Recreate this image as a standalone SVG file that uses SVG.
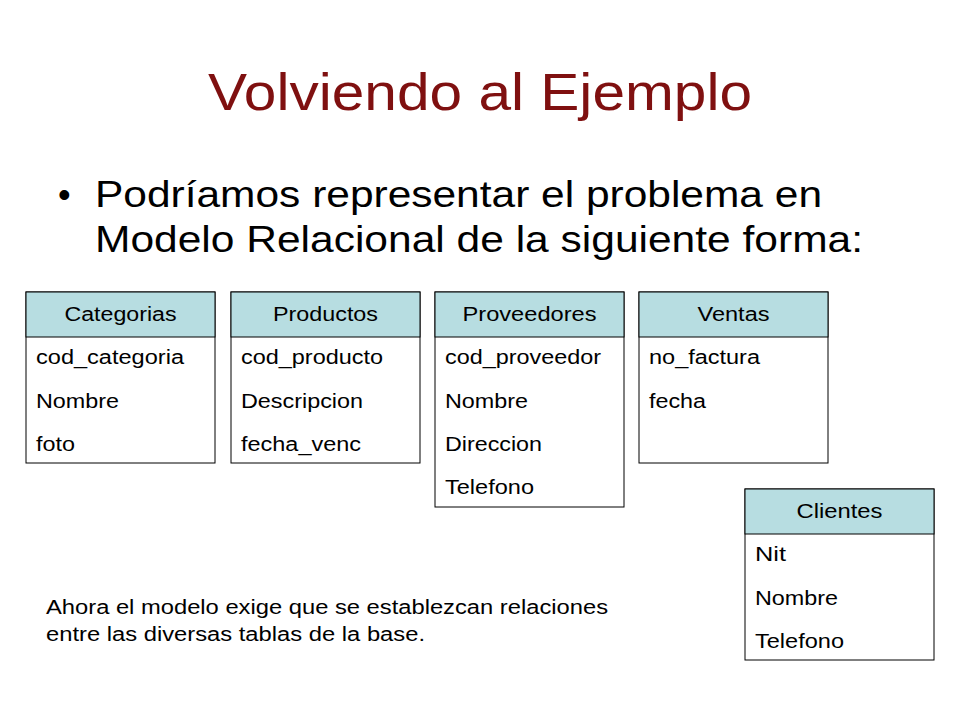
<svg xmlns="http://www.w3.org/2000/svg" width="960" height="720" viewBox="0 0 960 720">
<style>
text{font-family:"Liberation Sans",Arial,sans-serif;fill:#000}
.box{fill:#fff;stroke:#000;stroke-width:1}
.hd{fill:#B7DDE1;stroke:#000;stroke-width:1}
.h{font-size:20px;text-anchor:middle}
.r{font-size:20px}
</style>
<rect width="960" height="720" fill="#fff"/>
<text x="480" y="110" font-size="52" text-anchor="middle" textLength="544" lengthAdjust="spacingAndGlyphs" style="fill:#7F1010">Volviendo al Ejemplo</text>
<text x="58" y="207" font-size="36">•</text>
<text x="95" y="207" font-size="36" textLength="727" lengthAdjust="spacingAndGlyphs">Podríamos representar el problema en</text>
<text x="95" y="252" font-size="36" textLength="768" lengthAdjust="spacingAndGlyphs">Modelo Relacional de la siguiente forma:</text>
<g id="categorias">
<rect class="box" x="26" y="292" width="189" height="171"/><rect class="hd" x="26" y="292" width="189" height="45"/>
<text class="h" x="120.5" y="321" textLength="112" lengthAdjust="spacingAndGlyphs">Categorias</text>
<text class="r" x="36" y="364" textLength="148" lengthAdjust="spacingAndGlyphs">cod_categoria</text><text class="r" x="36" y="408" textLength="83" lengthAdjust="spacingAndGlyphs">Nombre</text><text class="r" x="36" y="451" textLength="39" lengthAdjust="spacingAndGlyphs">foto</text>
</g>
<g id="productos">
<rect class="box" x="231" y="292" width="189" height="171"/><rect class="hd" x="231" y="292" width="189" height="45"/>
<text class="h" x="325.5" y="321" textLength="105" lengthAdjust="spacingAndGlyphs">Productos</text>
<text class="r" x="241" y="364" textLength="142" lengthAdjust="spacingAndGlyphs">cod_producto</text><text class="r" x="241" y="408" textLength="122" lengthAdjust="spacingAndGlyphs">Descripcion</text><text class="r" x="241" y="451" textLength="120" lengthAdjust="spacingAndGlyphs">fecha_venc</text>
</g>
<g id="proveedores">
<rect class="box" x="435" y="292" width="189" height="215"/><rect class="hd" x="435" y="292" width="189" height="45"/>
<text class="h" x="529.5" y="321" textLength="134" lengthAdjust="spacingAndGlyphs">Proveedores</text>
<text class="r" x="445" y="364" textLength="156" lengthAdjust="spacingAndGlyphs">cod_proveedor</text><text class="r" x="445" y="408" textLength="83" lengthAdjust="spacingAndGlyphs">Nombre</text><text class="r" x="445" y="451" textLength="97" lengthAdjust="spacingAndGlyphs">Direccion</text><text class="r" x="445" y="494" textLength="89" lengthAdjust="spacingAndGlyphs">Telefono</text>
</g>
<g id="ventas">
<rect class="box" x="639" y="292" width="189" height="171"/><rect class="hd" x="639" y="292" width="189" height="45"/>
<text class="h" x="733.5" y="321" textLength="72" lengthAdjust="spacingAndGlyphs">Ventas</text>
<text class="r" x="649" y="364" textLength="111" lengthAdjust="spacingAndGlyphs">no_factura</text><text class="r" x="649" y="408" textLength="57" lengthAdjust="spacingAndGlyphs">fecha</text>
</g>
<g id="clientes">
<rect class="box" x="745" y="489" width="189" height="171"/><rect class="hd" x="745" y="489" width="189" height="45"/>
<text class="h" x="839.5" y="518" textLength="86" lengthAdjust="spacingAndGlyphs">Clientes</text>
<text class="r" x="755" y="561" textLength="31" lengthAdjust="spacingAndGlyphs">Nit</text><text class="r" x="755" y="605" textLength="83" lengthAdjust="spacingAndGlyphs">Nombre</text><text class="r" x="755" y="648" textLength="89" lengthAdjust="spacingAndGlyphs">Telefono</text>
</g>
<g id="connectors"/>
<text x="46" y="614" font-size="20" textLength="562" lengthAdjust="spacingAndGlyphs">Ahora el modelo exige que se establezcan relaciones</text>
<text x="46" y="641" font-size="20" textLength="379" lengthAdjust="spacingAndGlyphs">entre las diversas tablas de la base.</text>
</svg>
